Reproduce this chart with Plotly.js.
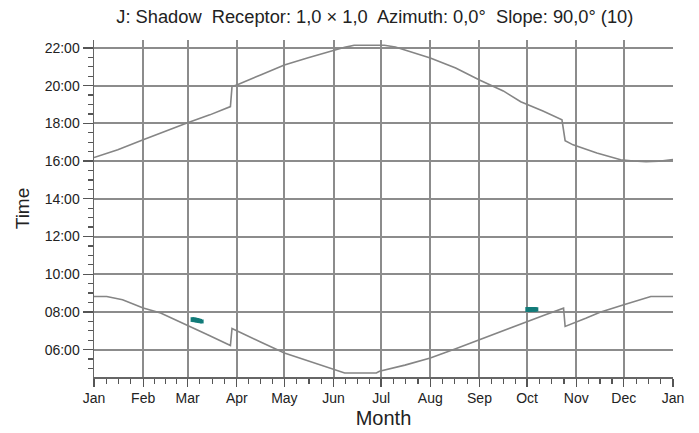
<!DOCTYPE html>
<html><head><meta charset="utf-8">
<script src="https://cdn.plot.ly/plotly-3.0.1.min.js"></script>
<style>html,body{margin:0;padding:0;background:#fff;}#chart{width:699px;height:433px;}</style>
</head><body><div id="chart"></div>
<script>
// Day-of-year (0 = 1 Jan) of month starts, and their labels
const monthStarts = [0, 31, 59, 90, 120, 151, 181, 212, 243, 273, 304, 334, 365];
const monthLabels = ['Jan','Feb','Mar','Apr','May','Jun','Jul','Aug','Sep','Oct','Nov','Dec','Jan'];

// Hour ticks
const hourTicks = [6, 8, 10, 12, 14, 16, 18, 20, 22];
const hourLabels = ['06:00','08:00','10:00','12:00','14:00','16:00','18:00','20:00','22:00'];

// Upper curve (sunset, local time in hours)
const sunsetDay  = [0, 15, 31, 45, 59, 73, 86, 87, 90, 105, 120, 135, 151, 158, 164, 173, 183, 190, 200, 212, 228, 243, 258, 269, 283, 295, 297, 302, 317, 332, 340, 348, 356, 365];
const sunsetTime = [16.19, 16.6, 17.13, 17.6, 18.03, 18.45, 18.89, 19.95, 20.04, 20.57, 21.1, 21.48, 21.87, 22.03, 22.14, 22.15, 22.14, 22.05, 21.8, 21.47, 20.93, 20.3, 19.72, 19.15, 18.66, 18.19, 17.08, 16.86, 16.43, 16.07, 16.0, 15.97, 15.99, 16.08];

// Lower curve (sunrise, local time in hours)
const sunriseDay  = [0, 8, 18, 31, 42, 58, 72, 86, 87, 105, 120, 130, 151, 158, 178, 180, 196, 212, 228, 243, 256, 273, 285, 296, 297, 310, 319, 334, 343, 351, 365];
const sunriseTime = [8.82, 8.82, 8.65, 8.21, 7.94, 7.33, 6.78, 6.22, 7.12, 6.41, 5.82, 5.55, 4.98, 4.76, 4.76, 4.85, 5.18, 5.56, 6.05, 6.53, 6.97, 7.49, 7.87, 8.2, 7.23, 7.66, 7.98, 8.38, 8.63, 8.82, 8.82];

// Shadow periods: day, start time, end time
const shadowDay   = [62, 63, 64, 65, 66, 67, 68, 273, 274, 275, 276, 277, 278, 279];
const shadowStart = [7.47, 7.46, 7.45, 7.43, 7.42, 7.40, 7.39, 8.00, 8.00, 8.00, 8.01, 8.01, 8.01, 8.02];
const shadowEnd   = [7.72, 7.71, 7.70, 7.68, 7.66, 7.63, 7.60, 8.26, 8.26, 8.26, 8.26, 8.26, 8.26, 8.25];

const sx = [], sy = [];
shadowDay.forEach((d, i) => { sx.push(d, d, null); sy.push(shadowStart[i], shadowEnd[i], null); });

// Minor x ticks at quarter months
const minorX = [];
for (let i = 0; i < monthStarts.length - 1; i++) {
  const a = monthStarts[i], b = monthStarts[i + 1];
  for (let k = 1; k < 4; k++) minorX.push(a + (b - a) * k / 4);
}

const curveStyle = {color: '#858585', width: 1.6};
const traces = [
  {x: sunsetDay, y: sunsetTime, type: 'scatter', mode: 'lines', line: curveStyle, hoverinfo: 'skip'},
  {x: sunriseDay, y: sunriseTime, type: 'scatter', mode: 'lines', line: curveStyle, hoverinfo: 'skip'},
  {x: sx, y: sy, type: 'scatter', mode: 'lines', line: {color: '#127b79', width: 3.5}, connectgaps: false, hoverinfo: 'skip'}
];

const font = 'Liberation Sans, Arial, sans-serif';
const layout = {
  width: 699, height: 433,
  margin: {l: 94, r: 26, t: 40, b: 56, pad: 0},
  paper_bgcolor: '#ffffff', plot_bgcolor: '#ffffff',
  showlegend: false,
  font: {family: font, color: '#222'},
  title: {
    text: 'J: Shadow\u00a0 Receptor: 1,0 \u00d7 1,0\u00a0 Azimuth: 0,0\u00b0\u00a0 Slope: 90,0\u00b0 (10)',
    font: {family: font, size: 18.3, color: '#222'},
    xref: 'paper', x: 0.485, xanchor: 'center',
    yref: 'container', y: 1 - 17 / 433, yanchor: 'middle'
  },
  xaxis: {
    range: [0, 365], fixedrange: true,
    tickmode: 'array', tickvals: monthStarts, ticktext: monthLabels,
    ticks: 'outside', ticklen: 8, tickwidth: 1.3, tickcolor: '#555',
    tickfont: {family: font, size: 14, color: '#222'},
    showgrid: true, gridcolor: '#8c8c8c', gridwidth: 2,
    showline: true, linecolor: '#666', linewidth: 1.5,
    zeroline: false,
    minor: {tickmode: 'array', tickvals: minorX, ticks: 'outside', ticklen: 5, tickwidth: 1.2, tickcolor: '#555', showgrid: false},
    title: {text: 'Month', font: {family: font, size: 20, color: '#222'}, standoff: 5}
  },
  yaxis: {
    range: [4.55, 22.42], fixedrange: true,
    tickmode: 'array', tickvals: hourTicks, ticktext: hourLabels,
    ticks: 'outside', ticklen: 10, tickwidth: 1.3, tickcolor: '#555',
    tickfont: {family: font, size: 14, color: '#222'},
    showgrid: true, gridcolor: '#8c8c8c', gridwidth: 2,
    showline: true, linecolor: '#666', linewidth: 1.5,
    zeroline: false,
    minor: {dtick: 0.5, tick0: 0, ticks: 'outside', ticklen: 5, tickwidth: 1.2, tickcolor: '#555', showgrid: false},
    title: {text: 'Time', font: {family: font, size: 19, color: '#222'}, standoff: 10}
  }
};

Plotly.newPlot('chart', traces, layout, {staticPlot: true, displayModeBar: false});
</script></body></html>
